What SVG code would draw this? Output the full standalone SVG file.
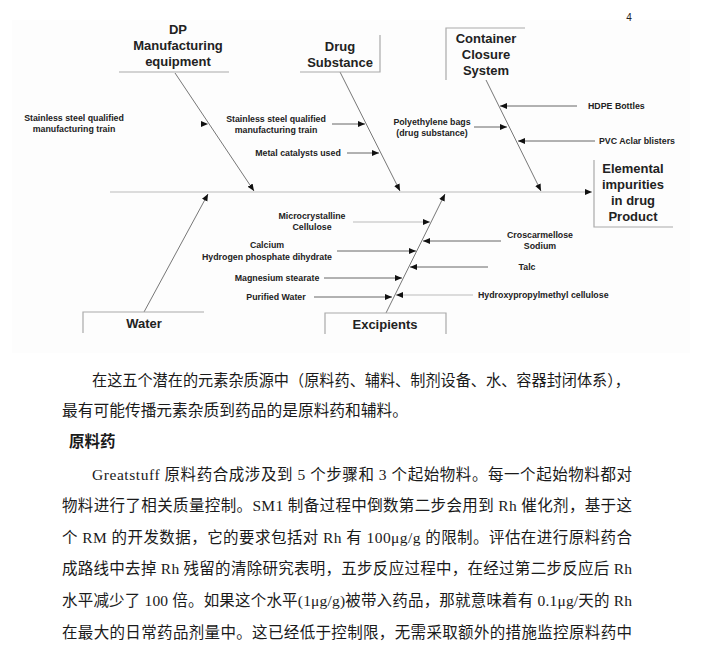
<svg xmlns="http://www.w3.org/2000/svg" width="703" height="646" viewBox="0 0 703 646">
<defs>
<marker id="ah" markerUnits="userSpaceOnUse" markerWidth="8" markerHeight="7" refX="7" refY="3" orient="auto">
<path d="M0,0 L7,3 L0,6 z" fill="#111"/>
</marker>
<style>
.bone{stroke:#777;stroke-width:1;fill:none;marker-end:url(#ah)}
.sub{stroke:#666;stroke-width:1;fill:none;marker-end:url(#ah)}
.spine{stroke:#bbb;stroke-width:1.2;fill:none;marker-end:url(#ah)}
.edge{stroke:#aaa;stroke-width:1.2;fill:none}
.cat{font-family:"Liberation Sans",Arial,sans-serif;font-weight:bold;font-size:13px;fill:#222;text-anchor:middle}
.lbl{font-family:"Liberation Sans",Arial,sans-serif;font-weight:bold;font-size:8.8px;fill:#222}
.mid{text-anchor:middle}
.body{font-family:"Liberation Serif","Noto Sans CJK SC",serif;font-size:15.5px;fill:#1a1a1a}
.head{font-family:"Liberation Serif","Noto Sans CJK SC",serif;font-size:15.5px;font-weight:bold;fill:#1a1a1a}
</style>
</defs>
<rect width="703" height="646" fill="#fff"/>
<rect x="12" y="20" width="678" height="333" fill="#fdfdfd"/>
<text x="629" y="21" font-family="Liberation Sans,Arial,sans-serif" font-size="10" fill="#222" text-anchor="middle">4</text>

<g id="connectors">
<line class="spine" x1="110" y1="192" x2="592" y2="192"/>
<line class="bone" x1="175" y1="73" x2="254" y2="191"/>
<line class="bone" x1="340" y1="72" x2="400" y2="191"/>
<line class="bone" x1="486" y1="80" x2="541" y2="191"/>
<line class="bone" x1="144" y1="312" x2="208" y2="194"/>
<line class="bone" x1="386" y1="313" x2="445" y2="194"/>
<line class="sub" x1="200" y1="124" x2="208" y2="124" style="stroke:#eee"/>
<line class="sub" x1="332" y1="124" x2="365" y2="124"/>
<line class="sub" x1="347" y1="153" x2="379" y2="153"/>
<line class="sub" x1="577" y1="106" x2="500" y2="106"/>
<line class="sub" x1="474" y1="127" x2="507" y2="127"/>
<line class="sub" x1="595" y1="141" x2="518" y2="141"/>
<line class="sub" x1="353" y1="222" x2="430" y2="222" style="stroke:#bbb"/>
<line class="sub" x1="501" y1="241" x2="423" y2="241"/>
<line class="sub" x1="337" y1="251" x2="416" y2="251"/>
<line class="sub" x1="488" y1="267" x2="410" y2="267"/>
<line class="sub" x1="324" y1="278" x2="402" y2="278"/>
<line class="sub" x1="473" y1="295" x2="396" y2="295" style="stroke:#bbb"/>
<line class="sub" x1="314" y1="297" x2="392" y2="297"/>
</g>

<g id="dp-equipment">
<line class="edge" x1="119" y1="72" x2="229" y2="72"/>
<text class="cat"><tspan x="178" y="34">DP</tspan><tspan x="178" y="50">Manufacturing</tspan><tspan x="178" y="66">equipment</tspan></text>
</g>
<g id="drug-substance">
<path class="edge" d="M380,35 V72 H300"/>
<text class="cat"><tspan x="340" y="51">Drug</tspan><tspan x="340" y="67">Substance</tspan></text>
</g>
<g id="container-closure">
<path class="edge" d="M446,80 V28 H525"/>
<text class="cat"><tspan x="486" y="43">Container</tspan><tspan x="486" y="59">Closure</tspan><tspan x="486" y="75">System</tspan></text>
</g>
<g id="effect">
<path class="edge" d="M594,160 V227 H673"/>
<text class="cat"><tspan x="633" y="173">Elemental</tspan><tspan x="633" y="189">impurities</tspan><tspan x="633" y="205">in drug</tspan><tspan x="633" y="221">Product</tspan></text>
</g>
<g id="water">
<path class="edge" d="M83,333 V312 H204"/>
<text class="cat" x="144" y="328">Water</text>
</g>
<g id="excipients">
<path class="edge" d="M325,334 V313 H446 V334"/>
<text class="cat" x="385" y="329">Excipients</text>
</g>

<g id="cause-labels">
<text class="lbl mid"><tspan x="74" y="121">Stainless steel qualified</tspan><tspan x="74" y="132">manufacturing train</tspan></text>
<text class="lbl mid"><tspan x="276" y="122">Stainless steel qualified</tspan><tspan x="276" y="133">manufacturing train</tspan></text>
<text class="lbl mid" x="298" y="156">Metal catalysts used</text>
<text class="lbl mid"><tspan x="432" y="125">Polyethylene bags</tspan><tspan x="432" y="136">(drug substance)</tspan></text>
<text class="lbl" x="588" y="109">HDPE Bottles</text>
<text class="lbl" x="599" y="144">PVC Aclar blisters</text>
<text class="lbl mid"><tspan x="312" y="219">Microcrystalline</tspan><tspan x="312" y="230">Cellulose</tspan></text>
<text class="lbl mid"><tspan x="540" y="238">Croscarmellose</tspan><tspan x="540" y="249">Sodium</tspan></text>
<text class="lbl mid"><tspan x="267" y="248">Calcium</tspan><tspan x="267" y="260">Hydrogen phosphate dihydrate</tspan></text>
<text class="lbl mid" x="527" y="270">Talc</text>
<text class="lbl mid" x="277" y="281">Magnesium stearate</text>
<text class="lbl mid" x="276" y="300">Purified Water</text>
<text class="lbl" x="478" y="298">Hydroxypropylmethyl cellulose</text>
</g>

<g id="body-text">
<text class="body" x="92" y="386" textLength="538" lengthAdjust="spacingAndGlyphs">在这五个潜在的元素杂质源中（原料药、辅料、制剂设备、水、容器封闭体系），</text>
<text class="body" x="62" y="416" textLength="346" lengthAdjust="spacingAndGlyphs">最有可能传播元素杂质到药品的是原料药和辅料。</text>
<text class="head" x="69" y="447">原料药</text>
<text class="body" x="92" y="480" textLength="540" lengthAdjust="spacing">Greatstuff 原料药合成涉及到 5 个步骤和 3 个起始物料。每一个起始物料都对</text>
<text class="body" x="62" y="511" textLength="570" lengthAdjust="spacing">物料进行了相关质量控制。SM1 制备过程中倒数第二步会用到 Rh 催化剂，基于这</text>
<text class="body" x="62" y="543" textLength="570" lengthAdjust="spacing">个 RM 的开发数据，它的要求包括对 Rh 有 100μg/g 的限制。评估在进行原料药合</text>
<text class="body" x="62" y="574" textLength="570" lengthAdjust="spacing">成路线中去掉 Rh 残留的清除研究表明，五步反应过程中，在经过第二步反应后 Rh</text>
<text class="body" x="62" y="606" textLength="570" lengthAdjust="spacing">水平减少了 100 倍。如果这个水平(1μg/g)被带入药品，那就意味着有 0.1μg/天的 Rh</text>
<text class="body" x="62" y="638" textLength="570" lengthAdjust="spacing">在最大的日常药品剂量中。这已经低于控制限，无需采取额外的措施监控原料药中</text>
</g>
</svg>
